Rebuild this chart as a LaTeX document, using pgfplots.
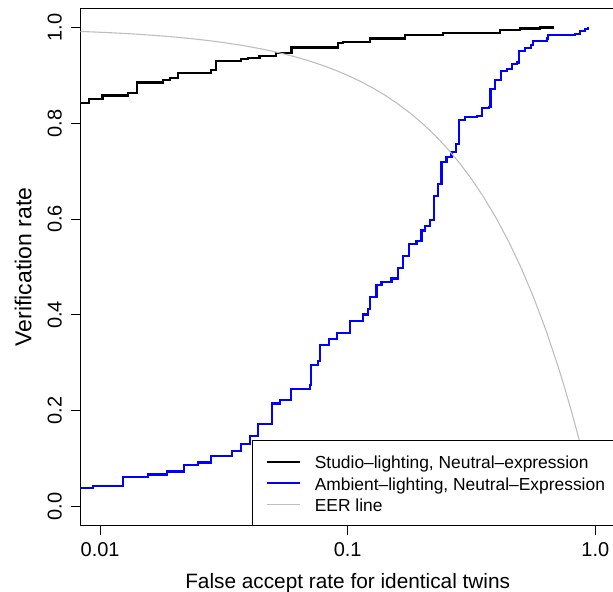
\documentclass[border=0pt]{standalone}
\usepackage{fontspec}
\setmainfont{Liberation Sans}
\usepackage{pgfplots}
\pgfplotsset{compat=1.18}
\definecolor{rblue}{RGB}{0,0,255}
\definecolor{rgray}{RGB}{190,190,190}
\begin{document}
\begin{tikzpicture}
\begin{axis}[
  at={(0,0)}, anchor=south west,
  scale only axis,
  width=534.8bp, height=517.4bp,
  xmode=log, xmin=0.0083176, xmax=1.2023,
  ymin=-0.04, ymax=1.04,
  xminorticks=false,
  xtick={0.01,0.1,1}, xticklabels={0.01,0.1,1.0},
  ytick={0,0.2,0.4,0.6,0.8,1}, yticklabels={0.0,0.2,0.4,0.6,0.8,1.0},
  tick align=outside, xtick pos=left, ytick pos=left,
  major tick length=9bp,
  tick style={black, line width=1.1bp},
  axis line style={black, line width=1.1bp},
  every tick label/.append style={font=\fontsize{20bp}{24bp}\selectfont, inner sep=0pt},
  xticklabel style={anchor=north},
  yticklabel style={rotate=90, anchor=south},
  xticklabel shift=7.7bp,
  yticklabel shift=9.3bp,
  xlabel={False accept rate for identical twins},
  ylabel={Verification rate},
  xlabel style={font=\fontsize{20.8bp}{24bp}\selectfont, inner sep=0pt, at={(axis description cs:0.5,-0.1214)}, anchor=base},
  ylabel style={font=\fontsize{23bp}{26bp}\selectfont, inner sep=0pt, at={(axis description cs:-0.0909,0.5)}, anchor=south},
  legend cell align=left,
  legend image code/.code={\draw[#1] (0bp,0bp) -- (33bp,0bp);},
  legend style={at={(axis description cs:0.3205,0)}, anchor=south west,
    draw=black, line width=1.1bp, fill=white,
    inner xsep=13.9bp, inner ysep=12bp, column sep=13.5bp, row sep=3.15bp,
    font=\fontsize{17.4bp}{20bp}\selectfont,
    nodes={inner sep=0pt, text height=16bp, text depth=2bp}},
]
\addplot[const plot, black, line width=2.2bp] table {
0.008 0.843
0.00899 0.850
0.01023 0.858
0.01292 0.864
0.01408 0.885
0.01789 0.890
0.01922 0.895
0.02057 0.905
0.02805 0.912
0.02938 0.930
0.03708 0.934
0.03947 0.937
0.04400 0.941
0.05122 0.947
0.05929 0.958
0.09146 0.967
0.09581 0.969
0.1228 0.977
0.1702 0.984
0.2430 0.989
0.4120 0.994
0.4963 0.998
0.5977 1.000
0.6810 1.000
};
\addlegendentry{Studio–lighting, Neutral–expression}
\addplot[const plot, rblue, line width=2.2bp] table {
0.008 0.0385
0.00935 0.043
0.01239 0.062
0.01559 0.067
0.01857 0.073
0.02180 0.086
0.02483 0.092
0.02797 0.105
0.03409 0.116
0.03714 0.130
0.04031 0.148
0.04339 0.172
0.04958 0.215
0.05314 0.223
0.05904 0.246
0.07027 0.253
0.07126 0.295
0.07593 0.304
0.07713 0.337
0.08385 0.350
0.09062 0.363
0.1020 0.387
0.1154 0.401
0.1209 0.412
0.1228 0.437
0.1307 0.462
0.1369 0.468
0.1503 0.476
0.1601 0.498
0.1674 0.523
0.1771 0.548
0.1897 0.555
0.1987 0.576
0.2049 0.586
0.2147 0.598
0.2228 0.649
0.2319 0.673
0.2393 0.719
0.2507 0.729
0.2627 0.740
0.2734 0.757
0.2820 0.806
0.2974 0.813
0.3317 0.816
0.3475 0.832
0.3727 0.834
0.3777 0.872
0.3932 0.890
0.4157 0.909
0.4384 0.913
0.4593 0.923
0.4812 0.927
0.4930 0.951
0.5197 0.957
0.5496 0.963
0.5585 0.971
0.6364 0.977
0.6457 0.984
0.8282 0.987
0.8674 0.992
0.9084 0.996
0.9369 1.000
};
\addlegendentry{Ambient–lighting, Neutral–Expression}
\addplot[rgray, line width=1.1bp] table {
0.007943 0.99206
0.008913 0.99109
0.01 0.99
0.011220 0.98878
0.012589 0.98741
0.014125 0.98587
0.015849 0.98415
0.017783 0.98222
0.019953 0.98005
0.022387 0.97761
0.025119 0.97488
0.028184 0.97182
0.031623 0.96838
0.035481 0.96452
0.039811 0.96019
0.044668 0.95533
0.050119 0.94988
0.056234 0.94377
0.063096 0.93690
0.070795 0.92921
0.079433 0.92057
0.089125 0.91087
0.1 0.9
0.112202 0.88780
0.125893 0.87411
0.141254 0.85875
0.158489 0.84151
0.177828 0.82217
0.199526 0.80047
0.223872 0.77613
0.251189 0.74881
0.281838 0.71816
0.316228 0.68377
0.354813 0.64519
0.398107 0.60189
0.446684 0.55332
0.501187 0.49881
0.562341 0.43766
0.630957 0.36904
0.707946 0.29205
0.749894 0.25011
0.794328 0.20567
0.841395 0.15861
0.891251 0.10875
0.912011 0.08799
0.944061 0.05594
0.977237 0.02276
1.0 0.0
};
\addlegendentry{EER line}
\end{axis}
\pgfresetboundingbox
\useasboundingbox (-80.3bp,-66.3bp) rectangle (532.7bp,525.7bp);
\end{tikzpicture}
\end{document}
